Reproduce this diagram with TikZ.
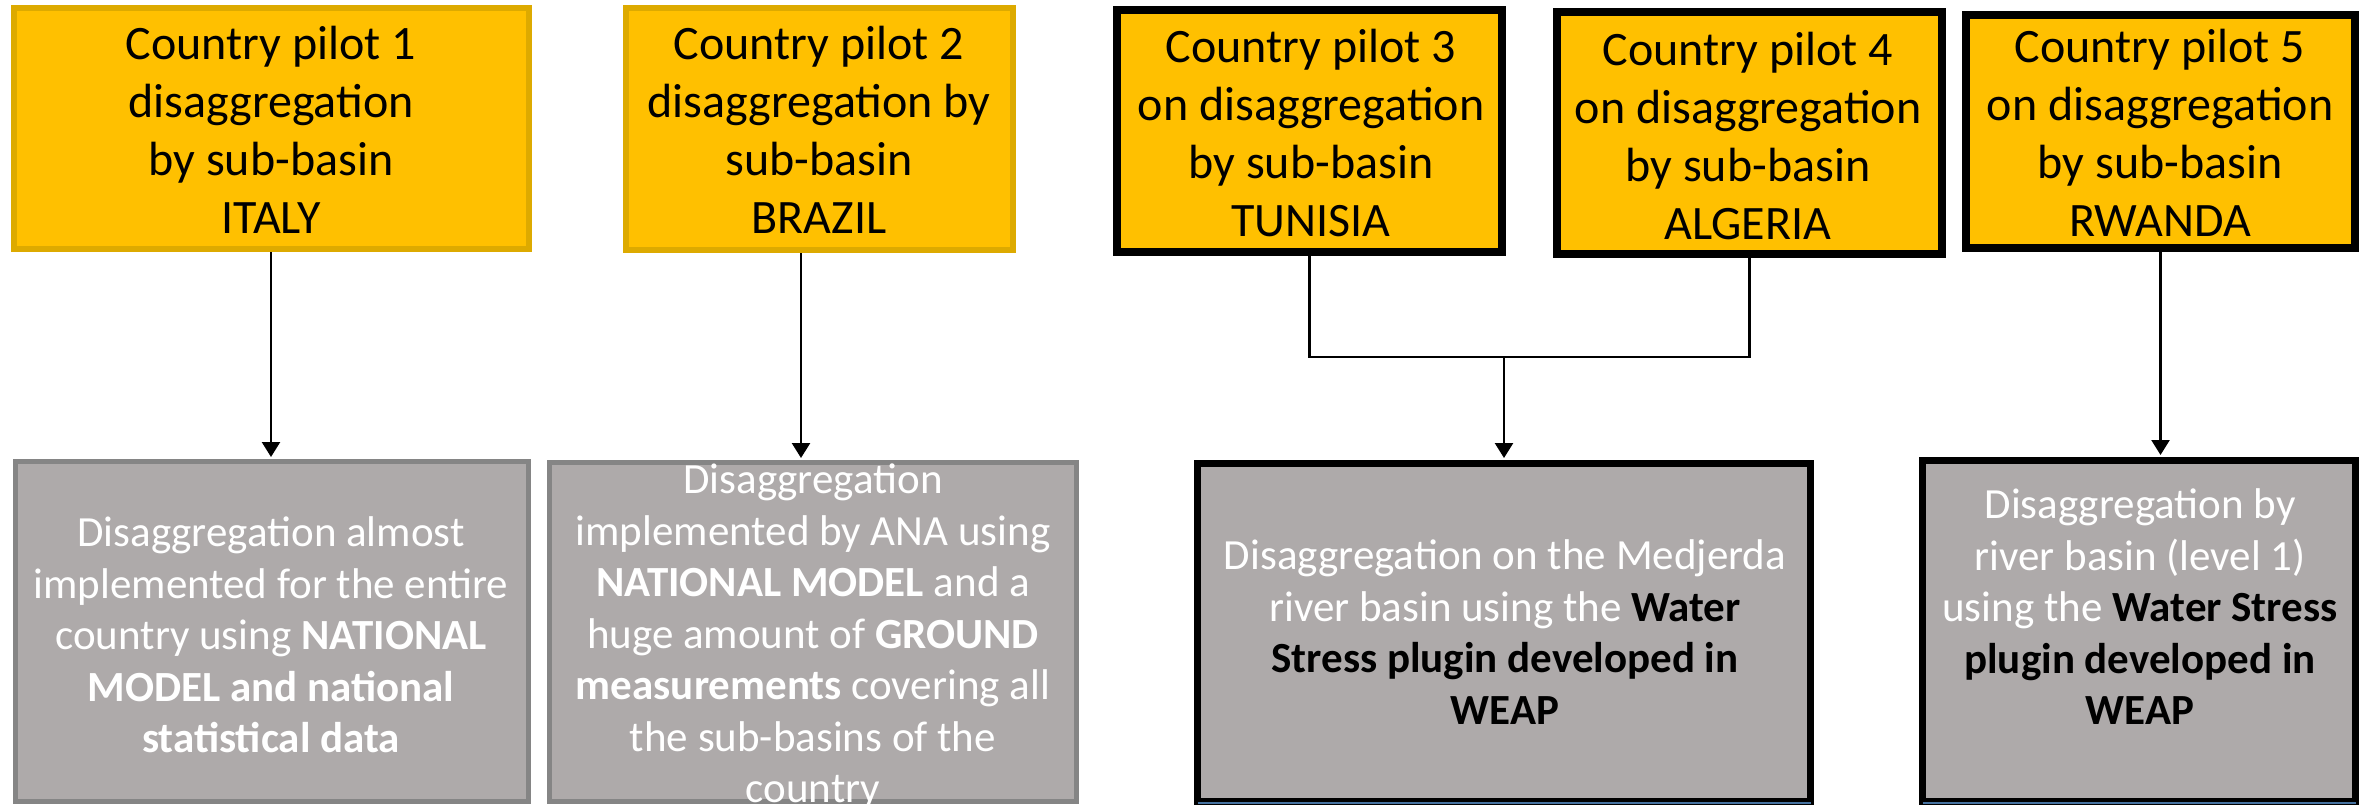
\documentclass[tikz,border=0pt]{standalone}
\usepackage{fontspec}
\setmainfont{Carlito}
\usetikzlibrary{arrows.meta}
\definecolor{gold}{RGB}{255,192,0}
\definecolor{goldline}{RGB}{221,170,0}
\definecolor{boxgray}{RGB}{174,170,170}
\definecolor{grayline}{RGB}{133,133,133}
\definecolor{blueline}{RGB}{70,114,160}
\tikzset{
  topbox/.style={rectangle, fill=gold, inner sep=0pt},
  goldbox/.style={topbox, draw=goldline, line width=6pt},
  blackbox/.style={topbox, draw=black, line width=8pt},
  botbox/.style={rectangle, fill=boxgray, inner sep=0pt},
  graybox/.style={botbox, draw=grayline, line width=5pt},
  darkbox/.style={botbox, draw=black, line width=7pt},
  toptext/.style={align=center, inner sep=0pt, font=\fontsize{48}{58}\selectfont, text=black},
  bottext/.style={align=center, inner sep=0pt, font=\fontsize{43}{51.5}\selectfont, text=white},
  conn/.style={draw=black, line width=2.5pt},
  arr/.style={conn, -{Triangle[length=15pt,width=18pt]}, shorten >=2pt},
  bluestrip/.style={draw=blueline, line width=2pt}
}
\begin{document}
\begin{tikzpicture}[x=1pt,y=-1pt]
\useasboundingbox (0,0) rectangle (2369,805);
% top boxes
\node[goldbox, minimum width=515pt, minimum height=241pt] (box1) at (271.5,128.5) {};
\node[goldbox, minimum width=387pt, minimum height=242pt] (box2) at (819.5,129) {};
\node[blackbox, minimum width=385pt, minimum height=242pt] (box3) at (1309.5,131) {};
\node[blackbox, minimum width=385pt, minimum height=242pt] (box4) at (1749.5,133) {};
\node[blackbox, minimum width=389pt, minimum height=233pt] (box5) at (2160.5,131.5) {};
% bottom boxes
\node[graybox, minimum width=513pt, minimum height=340pt] (box6) at (272,631.5) {};
\node[graybox, minimum width=527pt, minimum height=339pt] (box7) at (813,632) {};
\node[darkbox, minimum width=613pt, minimum height=338pt] (box8) at (1504,632.5) {};
\node[darkbox, minimum width=433pt, minimum height=341pt] (box9) at (2139,631) {};
\draw[bluestrip] ([xshift=3.5pt,yshift=2.5pt]box8.south west) -- ([xshift=-3.5pt,yshift=2.5pt]box8.south east);
\draw[bluestrip] ([xshift=3.5pt,yshift=2.5pt]box9.south west) -- ([xshift=-3.5pt,yshift=2.5pt]box9.south east);
% texts
\node[toptext] (t1) at (271,130) {Country pilot 1\\disaggregation\\by sub-basin\\ITALY};
\node[toptext] (t2) at (819,130) {Country pilot 2\\disaggregation by\\sub-basin\\BRAZIL};
\node[toptext] (t3) at (1311,133) {Country pilot 3\\on disaggregation\\by sub-basin\\TUNISIA};
\node[toptext] (t4) at (1748,136) {Country pilot 4\\on disaggregation\\by sub-basin\\ALGERIA};
\node[toptext] (t5) at (2160,133) {Country pilot 5\\on disaggregation\\by sub-basin\\RWANDA};
\node[bottext] (t6) at (271,635) {Disaggregation almost\\implemented for the entire\\country using \textbf{NATIONAL}\\\textbf{MODEL and national}\\\textbf{statistical data}};
\node[bottext] (t7) at (813,637) {Disaggregation\\implemented by ANA using\\\textbf{NATIONAL MODEL} and a\\huge amount of \textbf{GROUND}\\\textbf{measurements} covering all\\the sub-basins of the\\country};
\node[bottext] (t8) at (1505,632) {Disaggregation on the Medjerda\\river basin using the \textbf{\color{black}Water}\\\textbf{\color{black}Stress plugin developed in}\\\textbf{\color{black}WEAP}};
\node[bottext] (t9) at (2140,607) {Disaggregation by\\river basin (level 1)\\using the \textbf{\color{black}Water Stress}\\\textbf{\color{black}plugin developed in}\\\textbf{\color{black}WEAP}};
% connectors
\coordinate (c1) at (271,0);
\coordinate (c2) at (801,0);
\coordinate (j) at (1504,357);
\draw[arr] (c1 |- box1.south) -- (c1 |- box6.north);
\draw[arr] (c2 |- box2.south) -- (c2 |- box7.north);
\draw[conn] (box3.south) -- (box3.south |- j) -- (box4.south |- j) -- (box4.south);
\draw[arr] (j) -- (j |- box8.north);
\draw[arr] (box5.south) -- (box5.south |- box9.north);
\end{tikzpicture}
\end{document}
